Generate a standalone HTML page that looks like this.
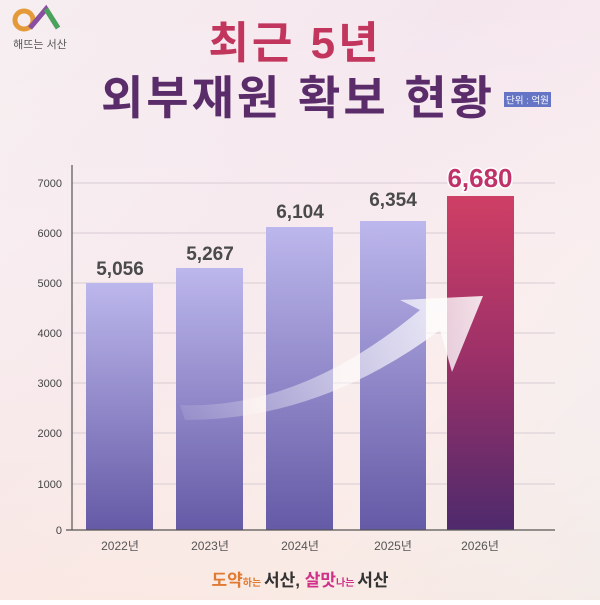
<!DOCTYPE html>
<html><head><meta charset="utf-8"><style>
body{margin:0;width:600px;height:600px;overflow:hidden;font-family:"Liberation Sans","Noto Sans CJK KR",sans-serif;}
</style></head><body>
<svg width="600" height="600" xmlns="http://www.w3.org/2000/svg" font-family="Liberation Sans, Noto Sans CJK KR, sans-serif">
<defs>
<linearGradient id="bg" x1="0" y1="0" x2="1" y2="1">
<stop offset="0" stop-color="#f6eef0"/><stop offset="0.4" stop-color="#f5e6ee"/><stop offset="0.7" stop-color="#f8ebee"/><stop offset="1" stop-color="#eaf0f8"/></linearGradient>
<linearGradient id="bg2" x1="0" y1="0" x2="0" y2="1">
<stop offset="0" stop-color="#fff" stop-opacity="0"/><stop offset="1" stop-color="#fbe8dc" stop-opacity="0.6"/></linearGradient>
<linearGradient id="bar" x1="0" y1="0" x2="0" y2="1">
<stop offset="0" stop-color="#bcb7ec"/><stop offset="1" stop-color="#655aa6"/></linearGradient>
<linearGradient id="red" x1="0" y1="0" x2="0" y2="1">
<stop offset="0" stop-color="#cf3f66"/><stop offset="0.5" stop-color="#9a3068"/><stop offset="1" stop-color="#4e2a6c"/></linearGradient>
<linearGradient id="arr" x1="0" y1="0" x2="1" y2="0">
<stop offset="0" stop-color="#fff" stop-opacity="0.1"/><stop offset="1" stop-color="#fff" stop-opacity="0.85"/></linearGradient>
</defs>
<rect width="600" height="600" fill="url(#bg)"/>
<rect width="600" height="600" fill="url(#bg2)"/>
<circle cx="24" cy="20" r="9" fill="none" stroke="#e59a3a" stroke-width="5"/>
<path d="M30 28 L46 9 L58 28" fill="none" stroke="#8a4ea0" stroke-width="5"/>
<path d="M46 9 L58 28" stroke="#4aa35a" stroke-width="5"/>
<text x="40" y="48" font-size="11" fill="#555" text-anchor="middle">해뜨는 서산</text>
<text x="295" y="58" font-size="44" font-weight="bold" fill="#c2365e" text-anchor="middle" letter-spacing="3">최근 5년</text>
<text x="298" y="114" font-size="46" font-weight="bold" fill="#5a2d6a" text-anchor="middle" letter-spacing="3">외부재원 확보 현황</text>
<rect x="504" y="92" width="47" height="15" fill="#6574c4"/>
<text x="527.5" y="103.5" font-size="9.5" fill="#fff" text-anchor="middle">단위 : 억원</text>
<g stroke="#d8ccd4" stroke-width="1">
<line x1="72" y1="183" x2="555" y2="183"/><line x1="72" y1="233" x2="555" y2="233"/>
<line x1="72" y1="283" x2="555" y2="283"/><line x1="72" y1="333" x2="555" y2="333"/>
<line x1="72" y1="383" x2="555" y2="383"/><line x1="72" y1="433" x2="555" y2="433"/>
<line x1="72" y1="484" x2="555" y2="484"/></g>
<g font-size="11" fill="#444" text-anchor="end">
<text x="62" y="187">7000</text><text x="62" y="237">6000</text><text x="62" y="287">5000</text>
<text x="62" y="337">4000</text><text x="62" y="387">3000</text><text x="62" y="437">2000</text>
<text x="62" y="488">1000</text><text x="62" y="534">0</text></g>
<rect x="86" y="283" width="67" height="247" fill="url(#bar)"/>
<rect x="176" y="268" width="67" height="262" fill="url(#bar)"/>
<rect x="266" y="227" width="67" height="303" fill="url(#bar)"/>
<rect x="360" y="221" width="66" height="309" fill="url(#bar)"/>
<rect x="447" y="196" width="67" height="334" fill="url(#red)"/>
<path d="M180 405 Q300 410 420 310 L400 300 L483 296 L452 372 L440 330 Q320 420 185 420 Z" fill="url(#arr)"/>
<line x1="72" y1="165" x2="72" y2="530" stroke="#555" stroke-width="1.2"/>
<line x1="66" y1="530" x2="555" y2="530" stroke="#555" stroke-width="1.2"/>
<g font-size="19" font-weight="bold" fill="#4a4a4a" text-anchor="middle">
<text x="120" y="275">5,056</text><text x="210" y="260">5,267</text>
<text x="300" y="218">6,104</text><text x="393" y="206">6,354</text></g>
<text x="480" y="187" font-size="26" font-weight="bold" fill="#c0336a" stroke="#fff" stroke-width="3" paint-order="stroke" text-anchor="middle">6,680</text>
<g font-size="12" fill="#555" text-anchor="middle">
<text x="120" y="550">2022년</text><text x="210" y="550">2023년</text><text x="300" y="550">2024년</text>
<text x="393" y="550">2025년</text><text x="480" y="550">2026년</text></g>
<text x="300" y="586" font-size="17" font-weight="bold" text-anchor="middle"><tspan fill="#e07a30">도약</tspan><tspan fill="#e07a30" font-size="10">하는 </tspan><tspan fill="#333">서산, </tspan><tspan fill="#d0308a">살맛</tspan><tspan fill="#d0308a" font-size="10">나는 </tspan><tspan fill="#333">서산</tspan></text>
</svg>
</body></html>
